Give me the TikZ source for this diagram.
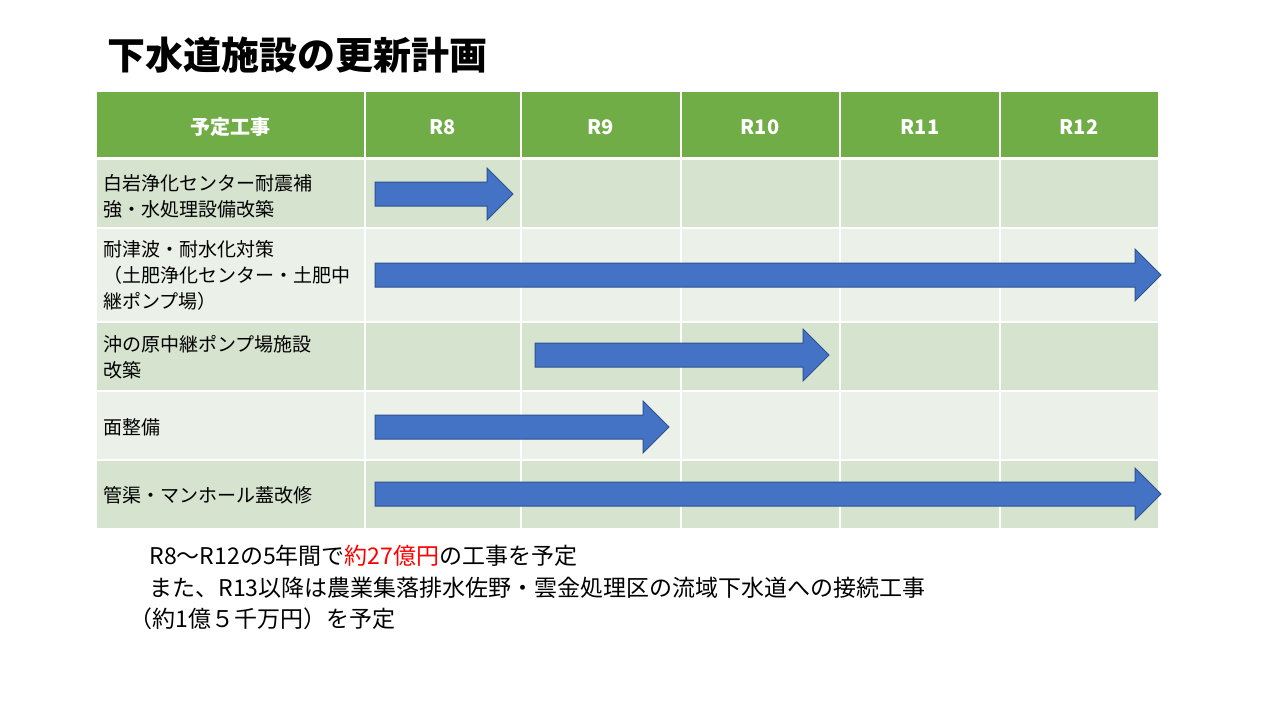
\documentclass[tikz,border=0pt]{standalone}
\usepackage{fontspec}
\setmainfont{Noto Sans CJK JP}
\usetikzlibrary{shapes.arrows}
\definecolor{hd}{HTML}{70AD47}
\definecolor{ra}{HTML}{D5E3CF}
\definecolor{rb}{HTML}{EBF1E9}
\definecolor{ar}{HTML}{4472C4}
\definecolor{ab}{HTML}{2F528F}
\begin{document}
\begin{tikzpicture}[x=1pt,y=-1pt,
 cell/.style={draw=white,line width=2pt},
 hdt/.style={text=white,font=\fontsize{20}{24}\selectfont\bfseries},
 lbl/.style={anchor=west,align=left,font=\fontsize{19}{26}\selectfont},
 bt/.style={anchor=west,font=\fontsize{23}{28}\selectfont}]
\useasboundingbox (0,0) rectangle (1280,720);
\node[anchor=west,font=\fontsize{38}{44}\selectfont\bfseries] (title) at (104,55) {下水道施設の更新計画};
% columns
\def\cols{96,365,521,681,840,1000,1159}
\fill[hd] (96,91) rectangle (1159,158);
\foreach \a/\b in {96/365,365/521,521/681,681/840,840/1000,1000/1159}{
 \draw[cell] (\a,91) rectangle (\b,158);
 \fill[ra] (\a,159) rectangle (\b,228); \draw[cell] (\a,159) rectangle (\b,228);
 \fill[rb] (\a,228) rectangle (\b,322); \draw[cell] (\a,228) rectangle (\b,322);
 \fill[ra] (\a,322) rectangle (\b,391); \draw[cell] (\a,322) rectangle (\b,391);
 \fill[rb] (\a,391) rectangle (\b,460); \draw[cell] (\a,391) rectangle (\b,460);
 \fill[ra] (\a,460) rectangle (\b,529); \draw[cell] (\a,460) rectangle (\b,529);
}
\draw[white,line width=3pt] (96,158.5) -- (1159,158.5);
\node[hdt] (h0) at (230,127) {予定工事};
\node[hdt] (h1) at (443,127) {R8};
\node[hdt] (h2) at (601,127) {R9};
\node[hdt] (h3) at (760,127) {R10};
\node[hdt] (h4) at (920,127) {R11};
\node[hdt] (h5) at (1079,127) {R12};
\node[lbl] (l1) at (100,196) {白岩浄化センター耐震補\\強・水処理設備改築};
\node[lbl] (l2) at (100,275) {耐津波・耐水化対策\\（土肥浄化センター・土肥中\\継ポンプ場）};
\node[lbl] (l3) at (100,357) {沖の原中継ポンプ場施設\\改築};
\node[lbl] (l4) at (100,427) {面整備};
\node[lbl] (l5) at (100,495) {管渠・マンホール蓋改修};
% arrows
\foreach \n/\xa/\xb/\yc in {a1/375/513/194,a2/375/1161/275,a3/535/829/355,a4/375/669/427,a5/375/1161/494}{
 \draw[fill=ar,draw=ab,line width=1pt] (\xa,\yc-12) -- (\xb-26,\yc-12) -- (\xb-26,\yc-26) -- (\xb,\yc) -- (\xb-26,\yc+26) -- (\xb-26,\yc+12) -- (\xa,\yc+12) -- cycle;
}
\node[bt] (b1) at (146,556) {R8～R12の5年間で\textcolor{red}{約27億円}の工事を予定};
\node[bt] (b2) at (146,588) {また、R13以降は農業集落排水佐野・雲金処理区の流域下水道への接続工事};
\node[bt] (b3) at (126,619) {（約1億５千万円）を予定};
\end{tikzpicture}
\end{document}
